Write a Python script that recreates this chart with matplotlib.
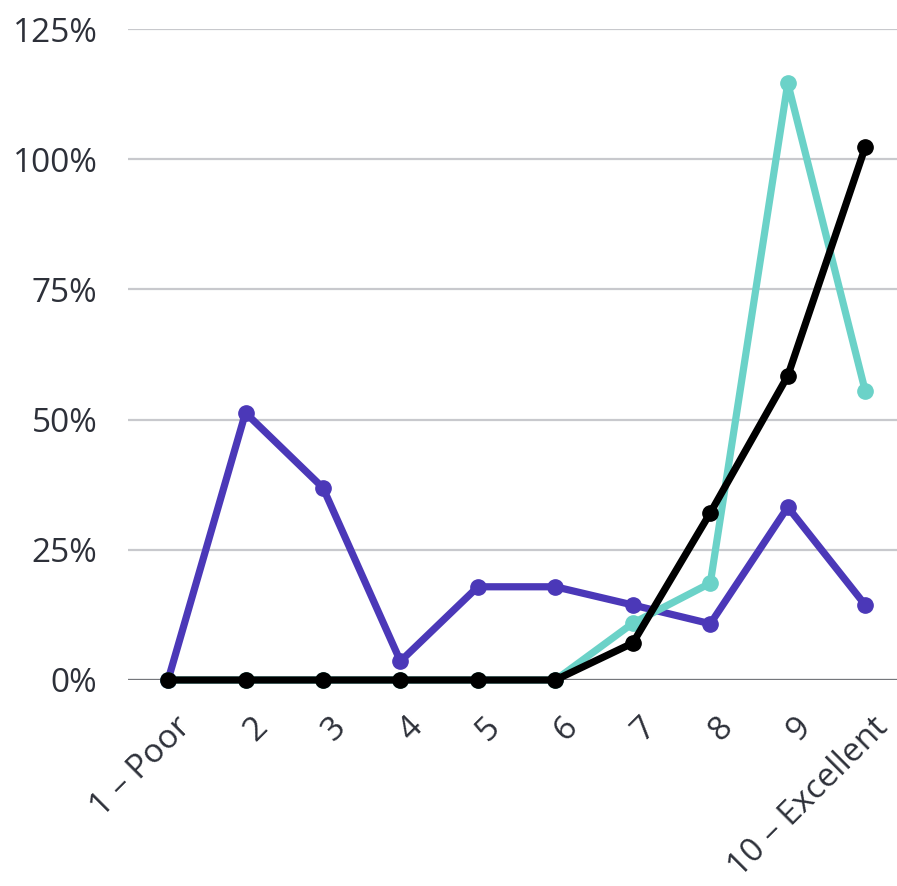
import matplotlib.pyplot as plt
import matplotlib.transforms as mtransforms
from matplotlib.ticker import FuncFormatter

categories = ["1 – Poor", "2", "3", "4", "5", "6", "7", "8", "9", "10 – Excellent"]
purple_vals = [0, 51.3, 36.9, 3.6, 17.9, 17.9, 14.4, 10.8, 33.2, 14.4]
teal_vals = [0, 0, 0, 0, 0, 0, 10.9, 18.6, 114.6, 55.5]
black_vals = [0, 0, 0, 0, 0, 0, 7.1, 32.1, 58.4, 102.3]
y_ticks = [0, 25, 50, 75, 100, 125]

plt.rcParams['font.family'] = ['Open Sans', 'DejaVu Sans']

fig = plt.figure(figsize=(8.97, 8.86), dpi=100)
ax = fig.add_axes([128 / 897, 206 / 886, 769 / 897, 651 / 886])

x = list(range(1, 11))
line_kw = dict(linewidth=5.2, marker='o', markersize=11, clip_on=False, solid_capstyle='round')
ax.plot(x, purple_vals, color='#4b38b8', zorder=3, **line_kw)
ax.plot(x, teal_vals, color='#6bd2c8', zorder=4, **line_kw)
ax.plot(x, black_vals, color='#000000', zorder=5, **line_kw)

ax.set_xlim(0.483, 10.41)
ax.set_ylim(0, 125)
ax.set_yticks(y_ticks)
ax.yaxis.set_major_formatter(FuncFormatter(lambda v, p: f"{v:.0f}%"))
ax.grid(axis='y', color='#c8c9cd', linewidth=1.6)
ax.axhline(0, color='#75777c', linewidth=1.6, zorder=2)

for s in ax.spines.values():
    s.set_visible(False)

ax.set_xticks(x)
ax.set_xticklabels(categories)
ax.tick_params(axis='both', length=0, labelsize=24, labelcolor='#2d3039')
ax.tick_params(axis='y', pad=22)
ax.tick_params(axis='x', pad=22)

offset = mtransforms.ScaledTranslation(6 / 100, 0, fig.dpi_scale_trans)
for lbl in ax.get_xticklabels():
    lbl.set_rotation(45)
    lbl.set_ha('right')
    lbl.set_va('top')
    lbl.set_rotation_mode('anchor')
    lbl.set_transform(lbl.get_transform() + offset)

fig.savefig('out.png', dpi=100)
